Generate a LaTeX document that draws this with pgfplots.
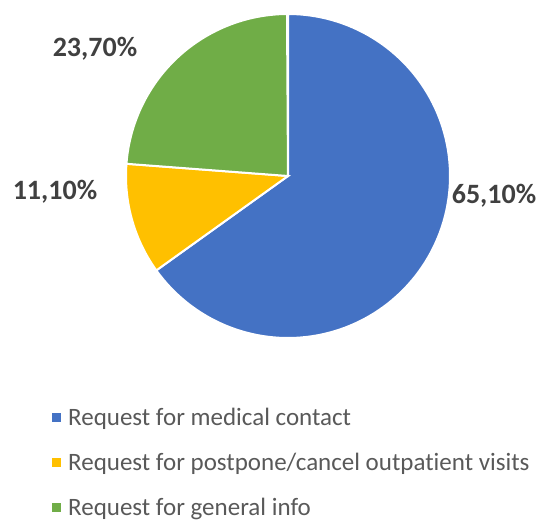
\documentclass[border=0pt]{standalone}
\usepackage{pgfplots}
\pgfplotsset{compat=1.18}
\usepackage{fontspec}
\setmainfont{Carlito}[Ligatures=NoCommon]
\definecolor{pieblue}{HTML}{4472C4}
\definecolor{pieyellow}{HTML}{FFC000}
\definecolor{piegreen}{HTML}{70AD47}
\definecolor{labgray}{HTML}{404040}
\definecolor{leggray}{HTML}{595959}
% shares (percent): 65.1, 11.1, 23.7 ; start at 12 o'clock, clockwise
\def\cx{288}\def\cy{345}\def\r{162}
\begin{document}
\begin{tikzpicture}
\begin{axis}[
  scale only axis, width=542bp, height=521bp,
  xmin=0, xmax=542, ymin=0, ymax=521,
  hide axis, clip=false,
  legend style={at={(axis cs:49,117)}, anchor=north west, draw=none, fill=none,
    font=\fontsize{25bp}{29bp}\selectfont, text=leggray, row sep=22bp,
    /tikz/every odd column/.append style={column sep=5bp}},
  legend cell align=left,
  legend image code/.code={\fill[#1,draw=none] (0bp,-4.5bp) rectangle (9bp,4.5bp);},
]
\path (rel axis cs:0,0) rectangle (rel axis cs:1,1);
\addplot[fill=pieblue, draw=white, line width=2pt, samples=120, domain={90-3.6*65.1}:90]
  ({\cx+\r*cos(x)},{\cy+\r*sin(x)}) -- (axis cs:\cx,\cy) -- cycle;
\addlegendentry{Request for medical contact}
\addplot[fill=pieyellow, draw=white, line width=2pt, samples=40, domain={90-3.6*(65.1+11.1)}:{90-3.6*65.1}]
  ({\cx+\r*cos(x)},{\cy+\r*sin(x)}) -- (axis cs:\cx,\cy) -- cycle;
\addlegendentry{Request for postpone/cancel outpatient visits}
\addplot[fill=piegreen, draw=white, line width=2pt, samples=60, domain={90-3.6*(65.1+11.1+23.7)}:{90-3.6*(65.1+11.1)}]
  ({\cx+\r*cos(x)},{\cy+\r*sin(x)}) -- (axis cs:\cx,\cy) -- cycle;
\addlegendentry{Request for general info}
\node[font=\fontsize{28bp}{32bp}\selectfont\bfseries, text=labgray] at (axis cs:494,325) {65,10\%};
\node[font=\fontsize{28bp}{32bp}\selectfont\bfseries, text=labgray] at (axis cs:55,329) {11,10\%};
\node[font=\fontsize{28bp}{32bp}\selectfont\bfseries, text=labgray] at (axis cs:95,472) {23,70\%};
\end{axis}
\end{tikzpicture}
\end{document}
